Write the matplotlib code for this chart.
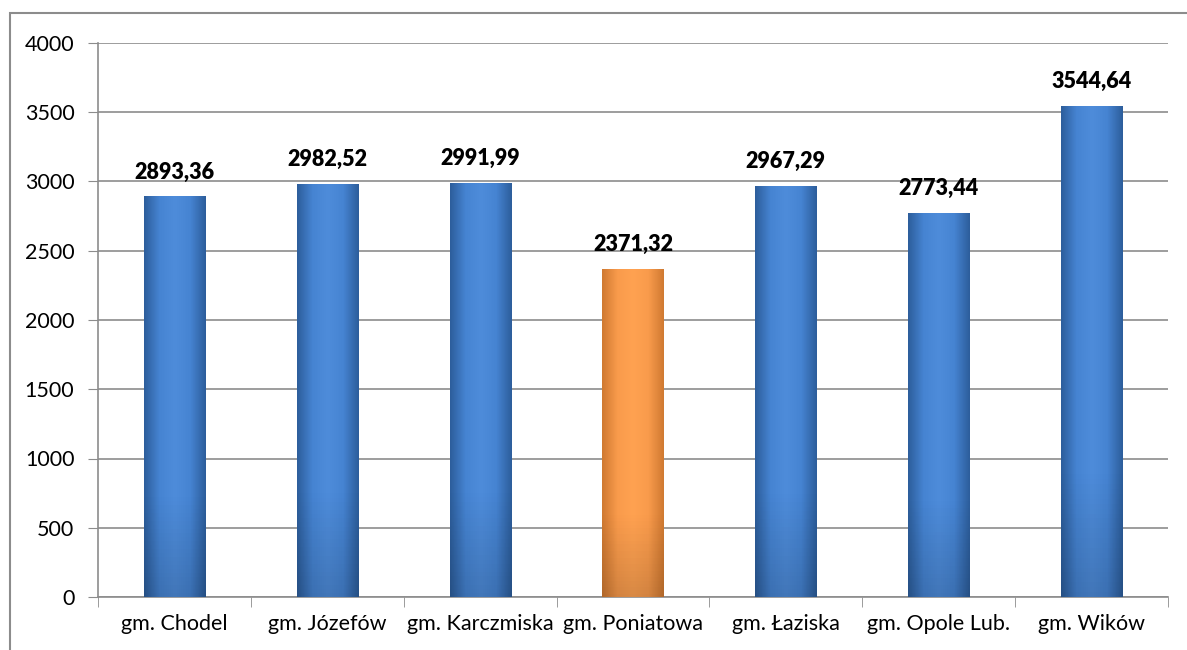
import numpy as np
import matplotlib
matplotlib.use("Agg")
import matplotlib.pyplot as plt
from matplotlib.colors import LinearSegmentedColormap
from matplotlib.patches import Rectangle

categories = ["gm. Chodel", "gm. Józefów", "gm. Karczmiska", "gm. Poniatowa",
              "gm. Łaziska", "gm. Opole Lub.", "gm. Wików"]
values = [2893.36, 2982.52, 2991.99, 2371.32, 2967.29, 2773.44, 3544.64]
labels = ["2893,36", "2982,52", "2991,99", "2371,32", "2967,29", "2773,44", "3544,64"]
highlight = "gm. Poniatowa"

plt.rcParams['font.family'] = ['Lato', 'DejaVu Sans']

blue_map = LinearSegmentedColormap.from_list("b", ["#2d5e9c", "#4684d2", "#4e8cda", "#4684d2", "#2d5e9c"])
orange_map = LinearSegmentedColormap.from_list("o", ["#d07a32", "#f99b4c", "#ffa251", "#f99b4c", "#d07a32"])

fig = plt.figure(figsize=(11.87, 6.5), dpi=100)
ax = fig.add_axes([98 / 1187, 1 - 597 / 650, 1070 / 1187, 554 / 650])

# outer frame
fig.patches.append(Rectangle((10 / 1187, -0.1), 1.2, 1 - 13 / 650 + 0.1, transform=fig.transFigure,
                             fill=False, edgecolor="#8c8c8c", linewidth=1.5))

x = np.arange(len(categories))
bars = ax.bar(x, values, width=0.4, color="none", zorder=3)
grad = np.linspace(0, 1, 100).reshape(1, -1)
for b, cat in zip(bars, categories):
    cmap = orange_map if cat == highlight else blue_map
    x0, y0 = b.get_x(), b.get_y()
    w, h = b.get_width(), b.get_height()
    im = ax.imshow(grad, cmap=cmap, aspect="auto", extent=(x0, x0 + w, y0, y0 + h), zorder=3)
    im.set_clip_path(b)
    # slightly darker bottom
    vert = np.linspace(0, 1, 100)
    shade = np.zeros((100, 1, 4))
    shade[:, 0, 3] = np.clip((vert - 0.75) / 0.25, 0, 1) * 0.15
    im2 = ax.imshow(shade, aspect="auto", extent=(x0, x0 + w, y0, y0 + h), zorder=3.1, origin="upper")
    im2.set_clip_path(b)

for xi, v, lab in zip(x, values, labels):
    ax.text(xi, v + 100, lab, ha="center", va="bottom", fontsize=15.5, fontweight="heavy", color="black")

ax.set_xlim(-0.5, len(categories) - 0.5)
ax.set_ylim(0, 4000)
ax.set_yticks(np.arange(0, 4001, 500))
ax.set_xticks(x)
ax.set_xticklabels(categories)
ax.set_xticks(np.arange(-0.5, len(categories), 1), minor=True)
ax.tick_params(axis="x", which="major", length=0, pad=12, labelsize=15.5)
ax.tick_params(axis="x", which="minor", length=7, color="#8c8c8c", direction="out")
ax.tick_params(axis="y", length=7, color="#8c8c8c", labelsize=15.5, pad=10)
ax.yaxis.grid(True, color="#8c8c8c", linewidth=1.2)
ax.set_axisbelow(True)
for s in ["top", "right"]:
    ax.spines[s].set_visible(False)
for s in ["left", "bottom"]:
    ax.spines[s].set_color("#8c8c8c")
    ax.spines[s].set_linewidth(1.2)

fig.savefig("out.png", dpi=100)
